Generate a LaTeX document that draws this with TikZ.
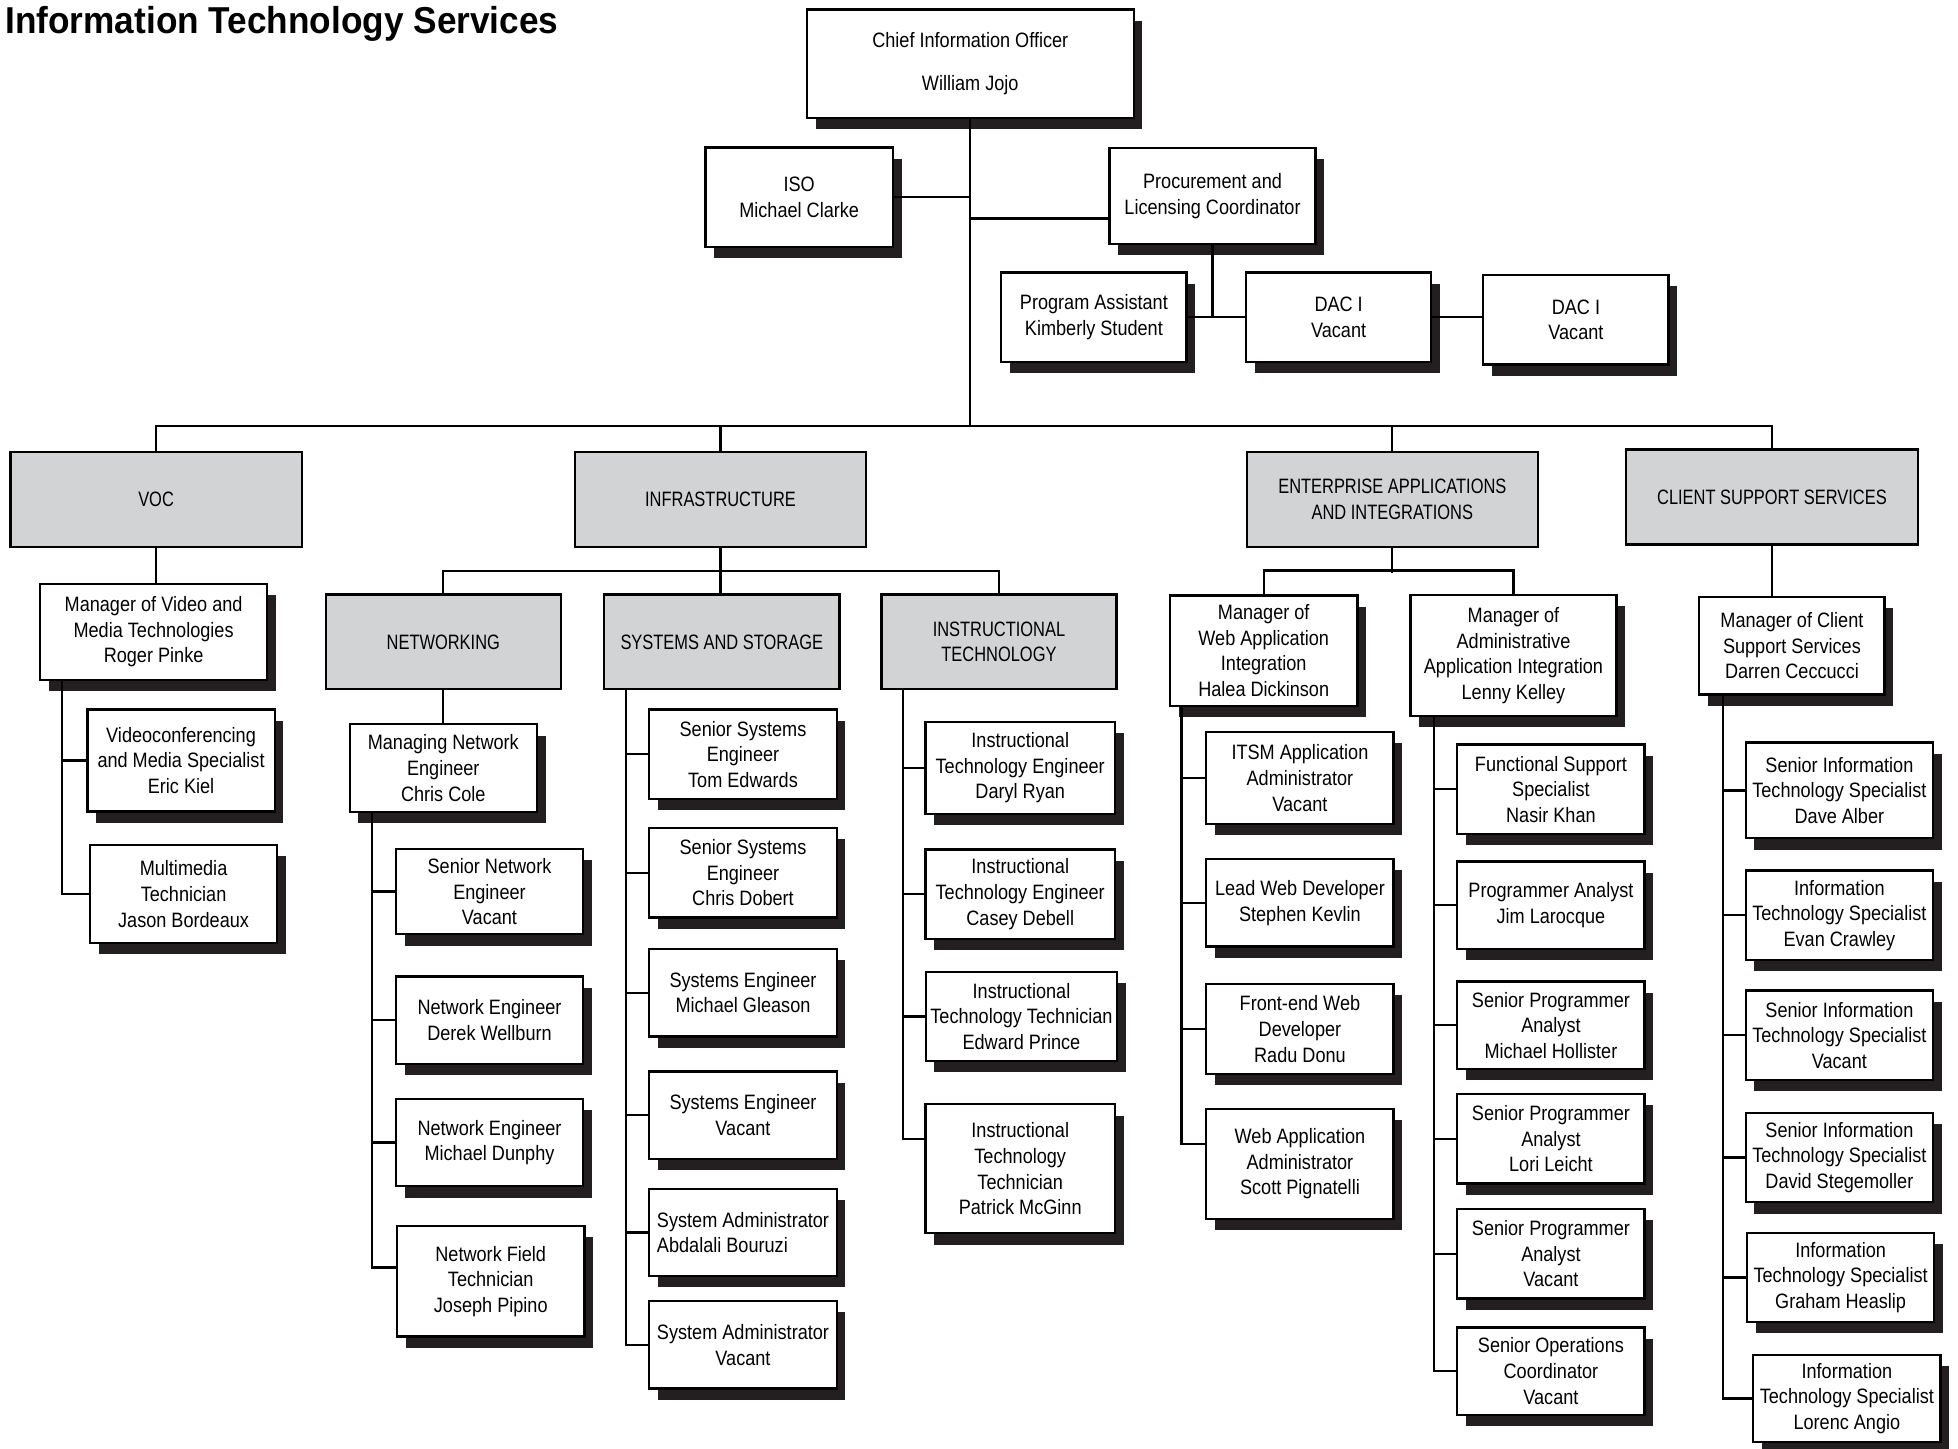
\documentclass[tikz,border=0pt]{standalone}
\usepackage{fontspec}
\setmainfont{Liberation Sans}[FakeStretch=0.87]
\newfontfamily\titlefont{Liberation Sans}[FakeStretch=0.94]
\newfontfamily\unitfont{Liberation Sans}[FakeStretch=0.79]
\usetikzlibrary{shadows}
\definecolor{unitgray}{HTML}{D1D3D4}
\definecolor{shadowblack}{HTML}{231F20}

\begin{document}
\begin{tikzpicture}[x=0.6pt, y=-0.6pt, box/.style={rectangle, draw=black, line width=1.1pt, align=center, inner sep=2pt, font=\fontsize{10}{12.3}\selectfont}, post/.style={box, fill=white, minimum width=90pt, minimum height=42pt, drop shadow={shadow xshift=4.2pt, shadow yshift=-5.4pt, fill=shadowblack, opacity=1}}, unit/.style={box, fill=unitgray, minimum width=140pt, minimum height=45.6pt, font=\unitfont\fontsize{10}{12.3}\selectfont}, subunit/.style={unit, minimum width=113pt}, link/.style={line width=1.1pt}]
    \useasboundingbox (0,0) rectangle (1568,1160);

    %Title
    \node[anchor=west, inner sep=0pt, font=\titlefont\bfseries\fontsize{18}{20}\selectfont](title) at (4,19){Information Technology Services};

    %Nodes
    \node[post, minimum width=157pt, minimum height=52pt](cio) at (777,51){Chief Information Officer\\[8pt]William Jojo};
    \node[post, minimum height=48pt](iso) at (640,158){ISO\\Michael Clarke};
    \node[post, minimum width=99pt, minimum height=46pt](proc) at (971,157){Procurement and\\Licensing Coordinator};
    \node[post, minimum width=89pt, minimum height=43pt](pa) at (876,254){Program Assistant\\Kimberly Student};
    \node[post, minimum width=89pt, minimum height=43pt](dac1) at (1072,254){DAC I\\Vacant};
    \node[post, minimum width=89pt, minimum height=43pt](dac2) at (1262,256){DAC I\\Vacant};

    \node[unit](voc) at (125,400){VOC};
    \node[unit](infra) at (577,400){INFRASTRUCTURE};
    \node[unit](ent) at (1115,400){ENTERPRISE APPLICATIONS\\AND INTEGRATIONS};
    \node[unit](css) at (1419,398){CLIENT SUPPORT SERVICES};

    \node[subunit](net) at (355,514){NETWORKING};
    \node[subunit](sys) at (578,514){SYSTEMS AND STORAGE};
    \node[subunit](instr) at (800,514){INSTRUCTIONAL\\TECHNOLOGY};

    \node[post, minimum width=109pt, minimum height=46pt](vocmgr) at (123,506){Manager of Video and\\Media Technologies\\Roger Pinke};
    \node[post, minimum height=49pt](vid) at (145,609){Videoconferencing\\and Media Specialist\\Eric Kiel};
    \node[post, minimum height=47pt](multi) at (147,716){Multimedia\\Technician\\Jason Bordeaux};

    \node[post](netmgr) at (355,615){Managing Network\\Engineer\\Chris Cole};
    \node[post, minimum height=41pt](sne) at (392,714){Senior Network\\Engineer\\Vacant};
    \node[post](ne1) at (392,817){Network Engineer\\Derek Wellburn};
    \node[post](ne2) at (392,915){Network Engineer\\Michael Dunphy};
    \node[post, minimum height=53pt](nft) at (393,1026){Network Field\\Technician\\Joseph Pipino};

    \node[post, minimum height=43pt](sse1) at (595,604){Senior Systems\\Engineer\\Tom Edwards};
    \node[post, minimum height=43pt](sse2) at (595,699){Senior Systems\\Engineer\\Chris Dobert};
    \node[post](se1) at (595,795){Systems Engineer\\Michael Gleason};
    \node[post](se2) at (595,893){Systems Engineer\\Vacant};
    \node[post, align=left](sa1) at (595,987){System Administrator\\Abdalali Bouruzi};
    \node[post](sa2) at (595,1077){System Administrator\\Vacant};

    \node[post, minimum width=91pt, minimum height=44pt](ite1) at (817,615){Instructional\\Technology Engineer\\Daryl Ryan};
    \node[post, minimum width=91pt, minimum height=43pt](ite2) at (817,716){Instructional\\Technology Engineer\\Casey Debell};
    \node[post, minimum width=92pt, minimum height=43pt](itt1) at (818,814){Instructional\\Technology Technician\\Edward Prince};
    \node[post, minimum width=91pt, minimum height=62pt](itt2) at (817,936){Instructional\\Technology\\Technician\\Patrick McGinn};

    \node[post, minimum height=53pt](webmgr) at (1012,521){Manager of\\Web Application\\Integration\\Halea Dickinson};
    \node[post, minimum height=44pt](itsm) at (1041,623){ITSM Application\\Administrator\\Vacant};
    \node[post](lwd) at (1041,723){Lead Web Developer\\Stephen Kevlin};
    \node[post, minimum height=43pt](few) at (1041,824){Front-end Web\\Developer\\Radu Donu};
    \node[post, minimum height=53pt](waa) at (1041,932){Web Application\\Administrator\\Scott Pignatelli};

    \node[post, minimum width=99pt, minimum height=58pt](admmgr) at (1212,525){Manager of\\Administrative\\Application Integration\\Lenny Kelley};
    \node[post, minimum height=43pt](fss) at (1242,632){Functional Support\\Specialist\\Nasir Khan};
    \node[post](pan) at (1242,725){Programmer Analyst\\Jim Larocque};
    \node[post](spa1) at (1242,821){Senior Programmer\\Analyst\\Michael Hollister};
    \node[post, minimum height=43pt](spa2) at (1242,912){Senior Programmer\\Analyst\\Lori Leicht};
    \node[post, minimum height=43pt](spa3) at (1242,1004){Senior Programmer\\Analyst\\Vacant};
    \node[post](soc) at (1242,1098){Senior Operations\\Coordinator\\Vacant};

    \node[post, minimum width=89pt, minimum height=47pt](cssmgr) at (1435,517){Manager of Client\\Support Services\\Darren Ceccucci};
    \node[post, minimum height=46pt](sits1) at (1473,633){Senior Information\\Technology Specialist\\Dave Alber};
    \node[post, minimum height=43pt](its1) at (1473,733){Information\\Technology Specialist\\Evan Crawley};
    \node[post, minimum height=43pt](sits2) at (1473,829){Senior Information\\Technology Specialist\\Vacant};
    \node[post, minimum height=43pt](sits3) at (1473,927){Senior Information\\Technology Specialist\\David Stegemoller};
    \node[post, minimum height=43pt](its2) at (1474,1023){Information\\Technology Specialist\\Graham Heaslip};
    \node[post](its3) at (1479,1120){Information\\Technology Specialist\\Lorenc Angio};

    %Coordinates
    \coordinate (hub) at (777,341);
    \coordinate (procin) at ([yshift=-10.8pt]proc.west);
    \coordinate (vocspine) at ([xshift=11pt]vocmgr.south west);
    \coordinate (netspine) at ([xshift=11.4pt]netmgr.south west);
    \coordinate (sysspine) at ([xshift=11pt]sys.south west);
    \coordinate (instrspine) at ([xshift=11pt]instr.south west);
    \coordinate (webspine) at ([xshift=6pt]webmgr.south west);
    \coordinate (admspine) at ([xshift=11.7pt]admmgr.south west);
    \coordinate (cssspine) at ([xshift=12pt]cssmgr.south west);

    %Lines
    \draw[link] (cio.south) -- (hub);
    \draw[link] (iso.east) -- (iso.east -| hub);
    \draw[link] (procin) -- (procin -| hub);
    \draw[link] (proc.south) -- (proc.south |- pa.east);
    \draw[link] (pa.east) -- (dac1.west);
    \draw[link] (dac1.east) -- (dac1.east -| dac2.west);
    \draw[link] (voc.north) |- (hub) -| (css.north);
    \draw[link] (infra.north) -- (infra.north |- hub);
    \draw[link] (ent.north) -- (ent.north |- hub);

    %VOC
    \draw[link] (voc.south) -- (voc.south |- vocmgr.north);
    \draw[link] (vocspine) |- (vid.west);
    \draw[link] (vocspine) |- (multi.west);

    %Infrastructure
    \draw[link] (infra.south) -- (infra.south |- sys.north);
    \draw[link] (net.north) -- ++(0,-18) -| (instr.north);
    \draw[link] (net.south) -- (netmgr.north);
    \draw[link] (netspine) |- (sne.west);
    \draw[link] (netspine) |- (ne1.west);
    \draw[link] (netspine) |- (ne2.west);
    \draw[link] (netspine) |- ([yshift=6.6pt]nft.west);
    \draw[link] (sysspine) |- (sse1.west);
    \draw[link] (sysspine) |- (sse2.west);
    \draw[link] (sysspine) |- (se1.west);
    \draw[link] (sysspine) |- (se2.west);
    \draw[link] (sysspine) |- (sa1.west);
    \draw[link] (sysspine) |- (sa2.west);
    \draw[link] (instrspine) |- (ite1.west);
    \draw[link] (instrspine) |- (ite2.west);
    \draw[link] (instrspine) |- (itt1.west);
    \draw[link] (instrspine) |- ([yshift=14.4pt]itt2.west);

    %Enterprise applications
    \draw[link] (ent.south) -- ++(0,20);
    \draw[link] (webmgr.north) -- ++(0,-19) -| (admmgr.north);
    \draw[link] (webspine) |- (itsm.west);
    \draw[link] (webspine) |- (lwd.west);
    \draw[link] (webspine) |- (few.west);
    \draw[link] (webspine) |- ([yshift=9.6pt]waa.west);
    \draw[link] (admspine) |- (fss.west);
    \draw[link] (admspine) |- (pan.west);
    \draw[link] (admspine) |- (spa1.west);
    \draw[link] (admspine) |- (spa2.west);
    \draw[link] (admspine) |- (spa3.west);
    \draw[link] (admspine) |- (soc.west);

    %Client support
    \draw[link] (css.south) -- (css.south |- cssmgr.north);
    \draw[link] (cssspine) |- (sits1.west);
    \draw[link] (cssspine) |- (its1.west);
    \draw[link] (cssspine) |- (sits2.west);
    \draw[link] (cssspine) |- (sits3.west);
    \draw[link] (cssspine) |- (its2.west);
    \draw[link] (cssspine) |- (its3.west);

\end{tikzpicture}
\end{document}
